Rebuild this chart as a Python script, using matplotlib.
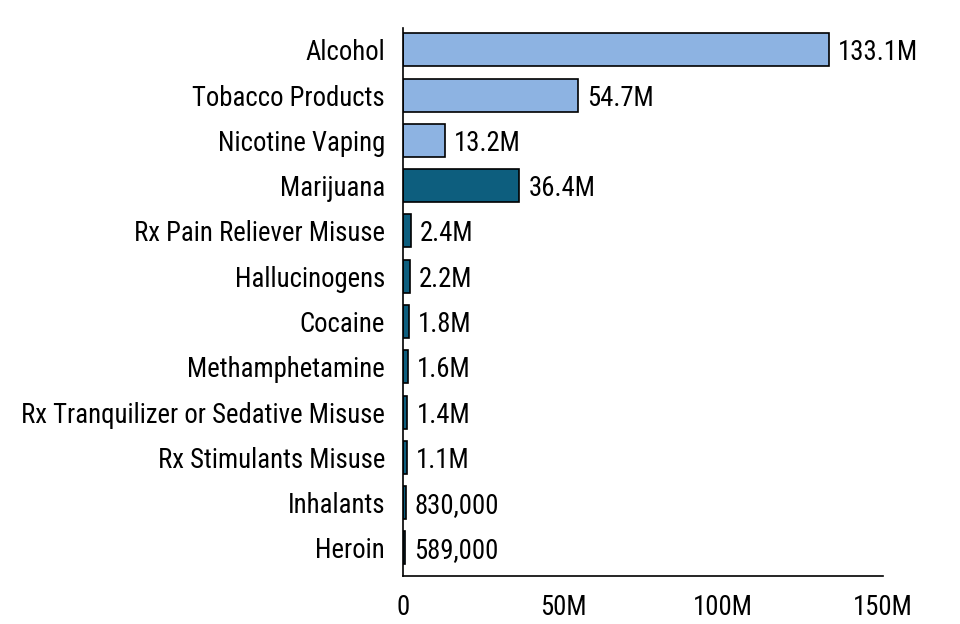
import matplotlib
matplotlib.use('Agg')
import matplotlib.pyplot as plt

# data (millions of people)
categories = ['Alcohol', 'Tobacco Products', 'Nicotine Vaping', 'Marijuana',
              'Rx Pain Reliever Misuse', 'Hallucinogens', 'Cocaine',
              'Methamphetamine', 'Rx Tranquilizer or Sedative Misuse',
              'Rx Stimulants Misuse', 'Inhalants', 'Heroin']
values = [133.1, 54.7, 13.2, 36.4, 2.4, 2.2, 1.8, 1.6, 1.4, 1.1, 0.83, 0.589]
value_labels = ['133.1M', '54.7M', '13.2M', '36.4M', '2.4M', '2.2M', '1.8M',
                '1.6M', '1.4M', '1.1M', '830,000', '589,000']
xticks = [0, 50, 100, 150]
xtick_labels = ['0', '50M', '100M', '150M']

light = '#8DB3E2'
dark = '#0D5E7E'
colors = [light] * 3 + [dark] * 9

plt.rcParams['font.family'] = ['Roboto Condensed', 'Roboto', 'DejaVu Sans']
fs = 19.3

fig = plt.figure(figsize=(9.6, 6.24), dpi=100)
ax = fig.add_axes([0.4198, 0.0769, 0.5, 0.8782])

y = list(range(len(categories)))
ax.barh(y, values, height=0.73, color=colors, edgecolor='black', linewidth=1.2)

for i, v in enumerate(values):
    ax.annotate(value_labels[i], (v, i), xytext=(6.5, 0), textcoords='offset points',
                va='center_baseline', ha='left', fontsize=fs)

ax.set_xlim(0, 150)
ax.set_ylim(11.62, -0.48)
ax.set_yticks(y)
ax.set_yticklabels(categories, fontsize=fs, va='center_baseline')
ax.set_xticks(xticks)
ax.set_xticklabels(xtick_labels, fontsize=fs)
ax.tick_params(axis='both', length=0)
ax.tick_params(axis='x', pad=13)
ax.tick_params(axis='y', pad=13)

ax.spines['top'].set_visible(False)
ax.spines['right'].set_visible(False)
ax.spines['left'].set_linewidth(1.2)
ax.spines['bottom'].set_linewidth(1.2)

fig.savefig('out.png', dpi=100)
